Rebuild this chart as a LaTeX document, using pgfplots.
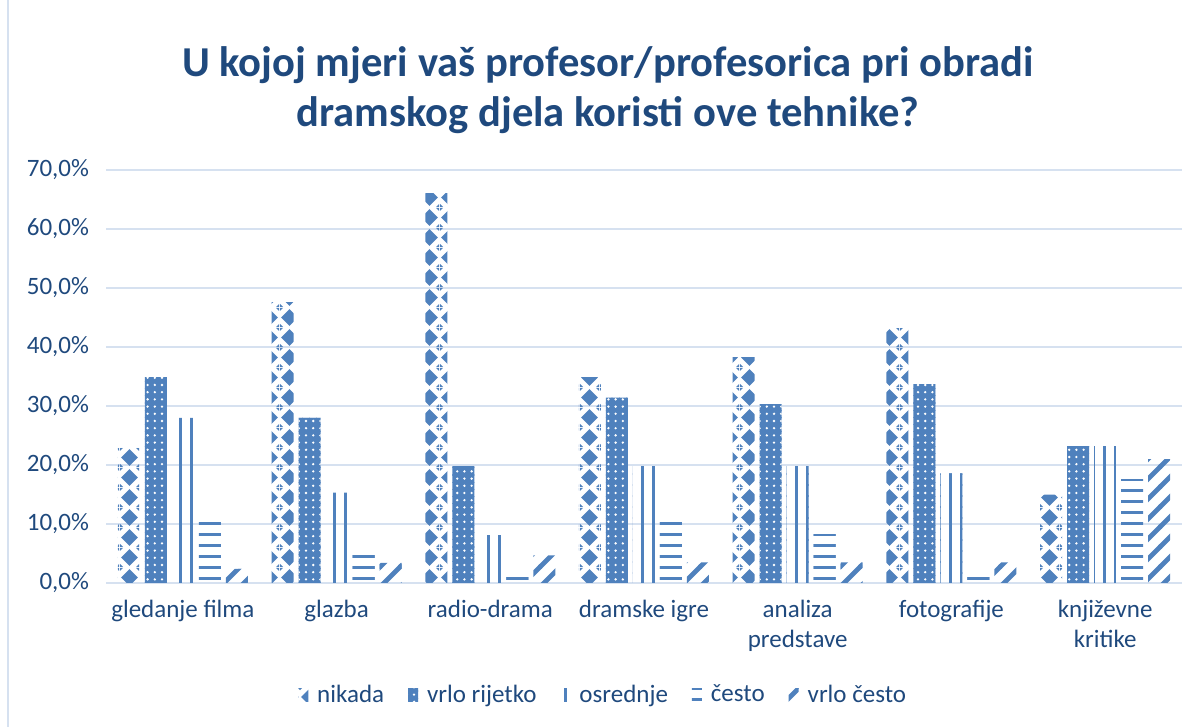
\documentclass[border=0pt]{standalone}
\usepackage{pgfplots}
\pgfplotsset{compat=1.18}
\usepackage{fontspec}
\setmainfont{Carlito}
\usetikzlibrary{patterns}
\definecolor{mblue}{HTML}{4F81BD}
\definecolor{textcol}{HTML}{1F497D}
\definecolor{gridcol}{HTML}{D6E1F0}

\pgfdeclarepatternformonly{nikada}{\pgfqpoint{0bp}{0bp}}{\pgfqpoint{10bp}{10bp}}{\pgfqpoint{10bp}{10bp}}{%
  \pgfpathmoveto{\pgfqpoint{5bp}{0.6bp}}\pgfpathlineto{\pgfqpoint{9.4bp}{5bp}}%
  \pgfpathlineto{\pgfqpoint{5bp}{9.4bp}}\pgfpathlineto{\pgfqpoint{0.6bp}{5bp}}\pgfpathclose
  \pgfpathmoveto{\pgfqpoint{0bp}{0bp}}\pgfpathlineto{\pgfqpoint{1.6bp}{0bp}}\pgfpathlineto{\pgfqpoint{0bp}{1.6bp}}\pgfpathclose
  \pgfpathmoveto{\pgfqpoint{10bp}{0bp}}\pgfpathlineto{\pgfqpoint{10bp}{1.6bp}}\pgfpathlineto{\pgfqpoint{8.4bp}{0bp}}\pgfpathclose
  \pgfpathmoveto{\pgfqpoint{0bp}{10bp}}\pgfpathlineto{\pgfqpoint{1.6bp}{10bp}}\pgfpathlineto{\pgfqpoint{0bp}{8.4bp}}\pgfpathclose
  \pgfpathmoveto{\pgfqpoint{10bp}{10bp}}\pgfpathlineto{\pgfqpoint{8.4bp}{10bp}}\pgfpathlineto{\pgfqpoint{10bp}{8.4bp}}\pgfpathclose
  \pgfusepath{fill}}

\pgfdeclarepatterninherentlycolored{bluedots}{\pgfqpoint{-0.3bp}{-0.3bp}}{\pgfqpoint{3.9bp}{3.9bp}}{\pgfqpoint{3.6bp}{3.6bp}}{%
  \pgfsetfillcolor{mblue}%
  \pgfpathrectangle{\pgfqpoint{-0.3bp}{-0.3bp}}{\pgfqpoint{4.2bp}{4.2bp}}\pgfusepath{fill}%
  \pgfsetfillcolor{white}%
  \pgfpathcircle{\pgfqpoint{1.8bp}{1.8bp}}{0.65bp}\pgfusepath{fill}}

\pgfdeclarepatternformonly{osrednje}{\pgfqpoint{0bp}{-0.4bp}}{\pgfqpoint{5.5bp}{5.9bp}}{\pgfqpoint{5.5bp}{5.5bp}}{%
  \pgfpathrectangle{\pgfqpoint{1.5bp}{-0.4bp}}{\pgfqpoint{1.5bp}{6.3bp}}\pgfusepath{fill}}

\pgfdeclarepatternformonly{cesto}{\pgfqpoint{-0.4bp}{0bp}}{\pgfqpoint{5.9bp}{5.5bp}}{\pgfqpoint{5.5bp}{5.5bp}}{%
  \pgfpathrectangle{\pgfqpoint{-0.4bp}{2bp}}{\pgfqpoint{6.3bp}{1.3bp}}\pgfusepath{fill}}

\pgfdeclarepatternformonly{vrlocesto}{\pgfqpoint{-1bp}{-1bp}}{\pgfqpoint{11bp}{11bp}}{\pgfqpoint{10bp}{10bp}}{%
  \pgfsetlinewidth{2.4bp}%
  \pgfpathmoveto{\pgfqpoint{-1bp}{-1bp}}\pgfpathlineto{\pgfqpoint{11bp}{11bp}}\pgfusepath{stroke}}

\begin{document}
\begin{tikzpicture}
\path[use as bounding box] (0,0) rectangle (598.5bp,363.5bp);
\draw[gridcol, line width=0.8bp] (4bp,0) -- (4bp,363.5bp);
\node[text=textcol, font=\fontsize{21.3bp}{25bp}\selectfont\bfseries] at (304bp,331bp)
  {U kojoj mjeri vaš profesor/profesorica pri obradi};
\node[text=textcol, font=\fontsize{21.3bp}{25bp}\selectfont\bfseries] at (304bp,306bp)
  {dramskog djela koristi ove tehnike?};
\begin{axis}[
  at={(53bp,72bp)}, anchor=south west,
  scale only axis, width=538bp, height=206.5bp,
  ymin=0, ymax=70, ytick={0,10,...,70},
  xmin=-0.5, xmax=6.5,
  xtick={0,...,6},
  xticklabels={gledanje filma, glazba, radio-drama, dramske igre, {analiza\\predstave}, fotografije, {književne\\kritike}},
  ybar=2.5bp, bar width=11bp,
  ymajorgrids, grid style={gridcol, line width=0.8bp},
  axis x line*=bottom, axis y line*=left,
  x axis line style={draw=gridcol, line width=0.8bp, -},
  y axis line style={draw=none},
  major tick length=0pt,
  tick style={draw=none},
  /pgf/number format/assume math mode=true,
  yticklabel={\pgfmathprintnumber[fixed,fixed zerofill,precision=1,use comma]{\tick}\%},
  ticklabel style={text=textcol, font=\fontsize{12.5bp}{15bp}\selectfont},
  yticklabel style={xshift=-5bp},
  xticklabel style={align=center, yshift=-5bp},
  legend style={at={(axis description cs:0.463,-0.271)}, anchor=center, draw=none,
    font=\fontsize{12.5bp}{15bp}\selectfont, text=textcol,
    /tikz/every odd column/.append style={column sep=2.5bp},
    /tikz/every even column/.append style={column sep=10bp}},
  legend columns=-1,
  legend image code/.code={\path[#1] (0bp,-3.2bp) rectangle (5bp,3.2bp);},
]
\addplot[draw=none, pattern=nikada, pattern color=mblue] coordinates {(0,22.9) (1,47.6) (2,66.1) (3,34.9) (4,38.3) (5,43.2) (6,15.0)};
\addplot[draw=none, pattern=bluedots] coordinates {(0,34.9) (1,28.0) (2,19.8) (3,31.4) (4,30.3) (5,33.7) (6,23.2)};
\addplot[draw=none, pattern=osrednje, pattern color=mblue] coordinates {(0,28.0) (1,15.3) (2,8.1) (3,19.8) (4,19.8) (5,18.6) (6,23.2)};
\addplot[draw=none, pattern=cesto, pattern color=mblue] coordinates {(0,11.6) (1,5.1) (2,1.2) (3,10.3) (4,8.3) (5,1.2) (6,17.6)};
\addplot[draw=none, pattern=vrlocesto, pattern color=mblue] coordinates {(0,2.4) (1,3.4) (2,4.7) (3,3.5) (4,3.5) (5,3.5) (6,21.0)};
\legend{nikada, vrlo rijetko, osrednje, često, vrlo često}
\end{axis}
\end{tikzpicture}
\end{document}
